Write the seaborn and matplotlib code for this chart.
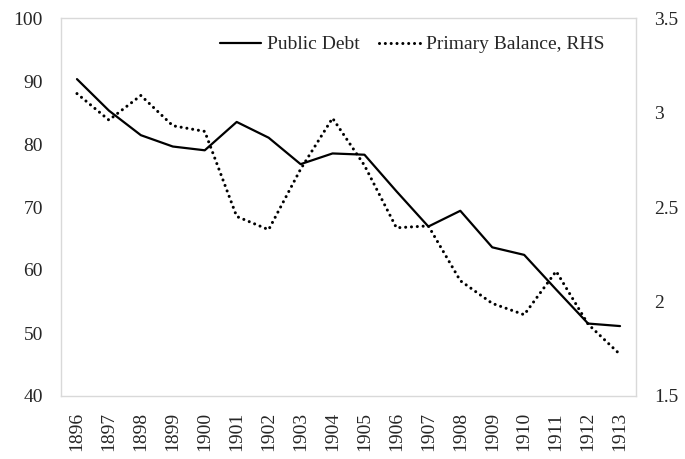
import matplotlib
matplotlib.use('Agg')
import matplotlib.pyplot as plt
import seaborn as sns
import pandas as pd

years = list(range(1896, 1914))
public_debt = [90.3, 85.3, 81.4, 79.6, 79.0, 83.5, 81.0, 76.8, 78.5, 78.3,
               72.5, 66.9, 69.4, 63.6, 62.4, 56.9, 51.5, 51.1]
primary_balance = [3.10, 2.96, 3.09, 2.93, 2.90, 2.45, 2.38, 2.70, 2.97, 2.72,
                   2.39, 2.40, 2.11, 1.99, 1.93, 2.16, 1.88, 1.72]
left_ticks = [40, 50, 60, 70, 80, 90, 100]
right_ticks = [1.5, 2, 2.5, 3, 3.5]

df = pd.DataFrame({'year': years, 'debt': public_debt, 'balance': primary_balance})

sns.set_style('white')
plt.rcParams['font.family'] = ['Liberation Serif', 'DejaVu Serif']
plt.rcParams['font.size'] = 14

fig = plt.figure(figsize=(6.85, 4.59), dpi=100)
ax = fig.add_axes([61 / 685, 1 - 396 / 459, 575 / 685, 378 / 459])
ax2 = ax.twinx()

sns.lineplot(data=df, x='year', y='debt', ax=ax, color='black', linewidth=1.6,
             label='Public Debt', legend=False)
sns.lineplot(data=df, x='year', y='balance', ax=ax2, color='black', linewidth=2.2,
             label='Primary Balance, RHS', legend=False)
# round dots like the reference's dotted line
ax2.lines[0].set_linestyle((0, (0.01, 1.9)))
ax2.lines[0].set_dash_capstyle('round')

ax.set_xlim(1895.5, 1913.5)
ax.set_ylim(40, 100)
ax2.set_ylim(1.5, 3.5)
ax.set_xticks(years)
ax.set_xticklabels([str(y) for y in years], rotation=90)
ax.set_yticks(left_ticks)
ax.set_yticklabels([str(t) for t in left_ticks])
ax2.set_yticks(right_ticks)
ax2.set_yticklabels([f'{t:g}' for t in right_ticks])
ax.set_xlabel('')
ax.set_ylabel('')
ax2.set_ylabel('')

ax.tick_params(axis='both', length=0, labelsize=14)
ax.tick_params(axis='y', pad=13)
ax.tick_params(axis='x', pad=11.5)
ax2.tick_params(axis='y', length=0, labelsize=14, pad=13)

for s in ax.spines.values():
    s.set_color('#d9d9d9')
    s.set_linewidth(1)
for s in ax2.spines.values():
    s.set_visible(False)

h1, l1 = ax.get_legend_handles_labels()
h2, l2 = ax2.get_legend_handles_labels()
fig.legend(h1 + h2, l1 + l2, loc='upper right', ncol=2, frameon=False,
           bbox_to_anchor=(612 / 685, 1 - 28 / 459), borderaxespad=0,
           handlelength=2.1, handletextpad=0.3, columnspacing=1.0, fontsize=14)

fig.savefig('out.png', dpi=100)
